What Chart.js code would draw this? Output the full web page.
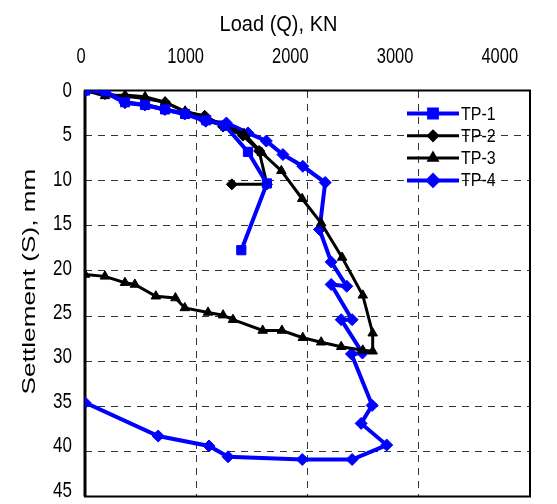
<!DOCTYPE html>
<html lang="en">
<head>
    <meta charset="UTF-8" />
    <title>Load - Settlement</title>
    <script src="https://cdn.jsdelivr.net/npm/chart.js"></script>
    <style>
        body { margin: 0; background: #fff; }
        #wrap { width: 557px; height: 504px; }
    </style>
</head>
<body>
    <div id="wrap"><canvas id="loadChart" width="557" height="504"></canvas></div>

    <script>
        // LOAD (KN) AND SETTLEMENT (MM) READINGS FOR EACH TEST PILE
        const tp1Load   = [0, 180, 360, 540, 720, 900, 1090, 1260, 1465, 1635, 1405];
        const tp1Settle = [0, 0.1, 1.3, 1.6, 2.1, 2.6, 3.3, 3.9, 6.8, 10.3, 17.7];

        const tp2Load   = [0, 180, 540, 720, 900, 1076, 1241, 1420, 1565, 1635, 1320];
        const tp2Settle = [0, 0.4, 0.9, 1.3, 2.4, 2.8, 4.0, 5.0, 6.7, 10.4, 10.4];

        const tp3Load   = [0, 180, 360, 540, 720, 900, 1080, 1250, 1430, 1590, 1765, 1952, 2123, 2311, 2497, 2586, 2586,
                           2497, 2303, 2123, 1958, 1770, 1597, 1330, 1241, 1106, 897, 813, 637, 448, 359, 179, 0];
        const tp3Settle = [0, 0.6, 0.5, 0.7, 1.3, 2.3, 2.9, 3.9, 4.8, 6.9, 8.9, 12.0, 14.7, 18.5, 22.7, 26.9, 28.9,
                           28.8, 28.4, 27.9, 27.4, 26.6, 26.6, 25.4, 24.9, 24.6, 24.1, 23.0, 22.8, 21.5, 21.3, 20.6, 20.4];

        const tp4Load   = [0, 179, 359, 538, 718, 897, 1085, 1271, 1465, 1630, 1779, 1958, 2159, 2108, 2213, 2353, 2213,
                           2401, 2303, 2494, 2395, 2581, 2482, 2712, 2401, 1953, 1286, 1115, 658, 0];
        const tp4Settle = [0.1, 0.2, 1.35, 1.6, 2.1, 2.6, 3.4, 3.6, 4.7, 5.6, 7.1, 8.4, 10.2, 15.4, 19.0, 21.7, 21.5,
                           25.4, 25.4, 29.1, 29.2, 34.9, 36.9, 39.3, 40.9, 40.9, 40.6, 39.4, 38.3, 34.6];

        const seriesNames = ["TP-1", "TP-2", "TP-3", "TP-4"];
        const xTicks = [0, 1000, 2000, 3000, 4000];
        const yTicks = [0, 5, 10, 15, 20, 25, 30, 35, 40, 45];
        const xTitle = "Load (Q), KN";
        const yTitle = "Settlement (S), mm";

        const FONT = "'Liberation Sans', Arial, sans-serif";

        function toPoints(loads, settles) {
            return loads.map((q, i) => ({ x: q, y: settles[i] }));
        }

        // text drawn slightly stretched, the original picture is taller than wide
        function stretchedText(ctx, text, x, y, size, sx, sy, align, angle) {
            ctx.save();
            ctx.translate(x, y);
            if (angle) ctx.rotate(angle);
            ctx.scale(sx, sy);
            ctx.font = size + "px " + FONT;
            ctx.fillStyle = "#000";
            ctx.textAlign = align;
            ctx.textBaseline = "middle";
            ctx.fillText(text, 0, 0);
            ctx.restore();
        }

        // DRAW THE LEGEND INSIDE THE PLOT, TOP RIGHT
        const innerLegend = {
            id: "innerLegend",
            afterDatasetsDraw(chart) {
                const ctx = chart.ctx;
                const area = chart.chartArea;
                const x0 = area.right - 123, x1 = area.right - 71;
                chart.data.datasets.forEach((ds, i) => {
                    const y = area.top + 23 + i * 22.3;
                    ctx.save();
                    ctx.strokeStyle = ds.borderColor;
                    ctx.lineWidth = ds.borderWidth;
                    ctx.beginPath();
                    ctx.moveTo(x0, y);
                    ctx.lineTo(x1, y);
                    ctx.stroke();
                    ctx.fillStyle = ds.backgroundColor;
                    Chart.helpers.drawPoint(ctx, {
                        pointStyle: ds.pointStyle,
                        radius: ds.pointRadius - 1,
                        borderWidth: 1
                    }, (x0 + x1) / 2, y);
                    ctx.fill();
                    ctx.restore();
                    stretchedText(ctx, ds.label, x1 + 2, y + 1, 16, 1, 1.15, "left");
                });
            }
        };

        // PLOT FRAME, AXIS LABELS AND TITLES
        const frame = {
            id: "frame",
            beforeDatasetsDraw(chart) {
                const ctx = chart.ctx;
                const a = chart.chartArea;
                const xs = chart.scales.x, ys = chart.scales.y;
                ctx.save();
                ctx.strokeStyle = "#000";
                ctx.lineWidth = 2;
                ctx.strokeRect(a.left, a.top, a.right - a.left, a.bottom - a.top);
                ctx.lineWidth = 3;
                ctx.beginPath();
                ctx.moveTo(a.left, a.top);
                ctx.lineTo(a.left, a.bottom);
                ctx.stroke();
                ctx.restore();

                // x labels sit a little tighter than the grid in the original
                xTicks.forEach(v => {
                    const px = xs.getPixelForValue(v);
                    stretchedText(ctx, String(v), a.left - 4 + (px - a.left) * 0.941, 57, 16.5, 1, 1.3, "center");
                });
                yTicks.forEach(v => {
                    const py = ys.getPixelForValue(v);
                    stretchedText(ctx, String(v), a.left - 13, a.top + 0.5 + (py - a.top) * 0.985, 17, 1, 1.25, "right");
                });

                stretchedText(ctx, xTitle, chart.width / 2, 24.5, 20, 1, 1.12, "center");
                stretchedText(ctx, yTitle, 30, (a.top + a.bottom) / 2 - 12, 19, 1.38, 1, "center", -Math.PI / 2);
            }
        };

        function drawChart() {
            const allLoads = [tp1Load, tp2Load, tp3Load, tp4Load];
            const allSettles = [tp1Settle, tp2Settle, tp3Settle, tp4Settle];
            const colors = ["#0000ff", "#000000", "#000000", "#0000ff"];
            const styles = ["rect", "rectRot", "triangle", "rectRot"];
            const radii = [6.5, 5.5, 5.5, 6];
            const widths = [4, 3, 3, 4];

            const datasets = seriesNames.map((name, i) => ({
                label: name,
                data: toPoints(allLoads[i], allSettles[i]),
                borderColor: colors[i],
                backgroundColor: colors[i],
                borderWidth: widths[i],
                pointStyle: styles[i],
                pointRadius: radii[i],
                pointBorderWidth: 1,
                showLine: true,
                tension: 0
            }));

            new Chart(document.getElementById("loadChart"), {
                type: "scatter",
                data: { datasets: datasets },
                plugins: [frame, innerLegend],
                options: {
                    responsive: false,
                    animation: false,
                    layout: { padding: { top: 90.5, right: 27, bottom: 7, left: 85 } },
                    plugins: {
                        legend: { display: false },
                        tooltip: { enabled: false }
                    },
                    scales: {
                        x: {
                            type: "linear",
                            position: "top",
                            min: 0,
                            max: 4000,
                            afterBuildTicks: axis => { axis.ticks = xTicks.map(v => ({ value: v })); },
                            afterFit: axis => { axis.paddingLeft = 0; axis.paddingRight = 0; },
                            ticks: { display: false },
                            grid: { color: "#333", drawTicks: false },
                            border: { display: false, dash: [7, 6] }
                        },
                        y: {
                            type: "linear",
                            reverse: true,
                            min: 0,
                            max: 45,
                            afterBuildTicks: axis => { axis.ticks = yTicks.map(v => ({ value: v })); },
                            afterFit: axis => { axis.paddingTop = 0; axis.paddingBottom = 0; },
                            ticks: { display: false },
                            grid: { color: "#333", drawTicks: false },
                            border: { display: false, dash: [7, 6] }
                        }
                    }
                }
            });
        }

        window.onload = drawChart;
    </script>
</body>
</html>
